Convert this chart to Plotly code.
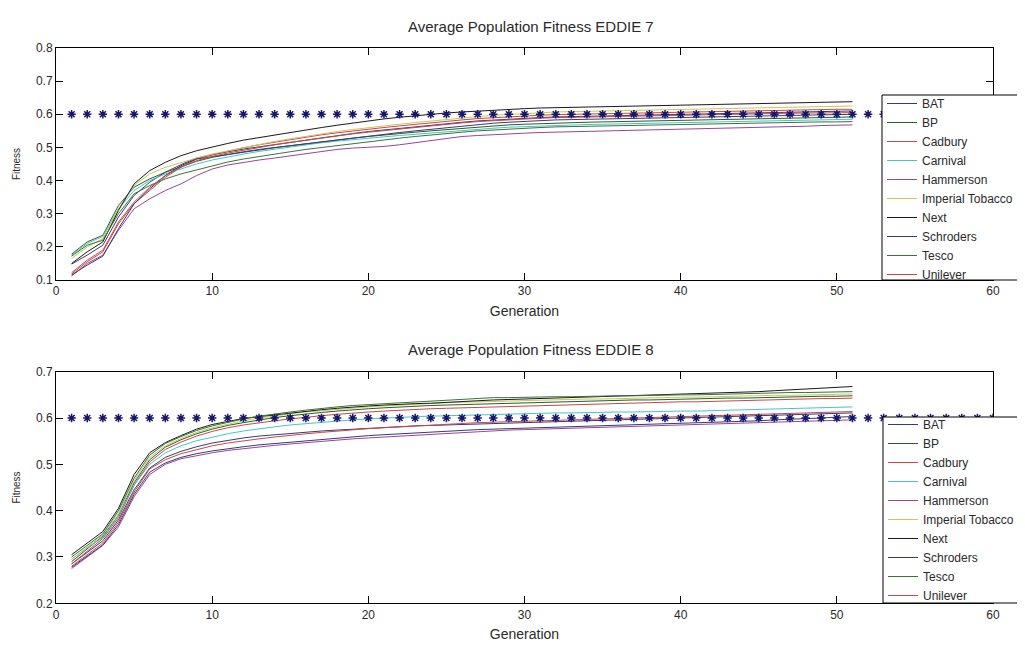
import plotly.graph_objects as go

generations = list(range(1, 52))
target_x = list(range(1, 61))
target_y = [0.6, 0.6, 0.6, 0.6, 0.6, 0.6, 0.6, 0.6, 0.6, 0.6,
            0.6, 0.6, 0.6, 0.6, 0.6, 0.6, 0.6, 0.6, 0.6, 0.6,
            0.6, 0.6, 0.6, 0.6, 0.6, 0.6, 0.6, 0.6, 0.6, 0.6,
            0.6, 0.6, 0.6, 0.6, 0.6, 0.6, 0.6, 0.6, 0.6, 0.6,
            0.6, 0.6, 0.6, 0.6, 0.6, 0.6, 0.6, 0.6, 0.6, 0.6,
            0.6, 0.6, 0.6, 0.6, 0.6, 0.6, 0.6, 0.6, 0.6, 0.6]

companies = ["BAT", "BP", "Cadbury", "Carnival", "Hammerson",
             "Imperial Tobacco", "Next", "Schroders", "Tesco", "Unilever"]

# ---------------- EDDIE 7 ----------------
e7_bat = [0.148, 0.175, 0.205, 0.29, 0.355, 0.395, 0.425, 0.448, 0.468, 0.478,
          0.487, 0.495, 0.502, 0.509, 0.516, 0.523, 0.530, 0.536, 0.542, 0.548,
          0.553, 0.558, 0.563, 0.568, 0.572, 0.576, 0.580, 0.583, 0.586, 0.588,
          0.590, 0.592, 0.593, 0.594, 0.595, 0.596, 0.597, 0.598, 0.599, 0.600,
          0.601, 0.602, 0.603, 0.604, 0.605, 0.606, 0.607, 0.608, 0.609, 0.609, 0.610]
e7_bp = [0.178, 0.215, 0.235, 0.325, 0.38, 0.405, 0.425, 0.442, 0.458, 0.470,
         0.479, 0.487, 0.494, 0.500, 0.506, 0.512, 0.518, 0.523, 0.528, 0.533,
         0.538, 0.542, 0.546, 0.550, 0.554, 0.558, 0.562, 0.565, 0.568, 0.570,
         0.572, 0.574, 0.575, 0.576, 0.577, 0.578, 0.579, 0.580, 0.581, 0.582,
         0.583, 0.584, 0.585, 0.586, 0.587, 0.588, 0.589, 0.590, 0.591, 0.591, 0.592]
e7_cadbury = [0.118, 0.155, 0.185, 0.27, 0.33, 0.37, 0.41, 0.44, 0.465, 0.478,
              0.489, 0.499, 0.508, 0.516, 0.524, 0.531, 0.538, 0.544, 0.550, 0.555,
              0.560, 0.565, 0.570, 0.575, 0.579, 0.583, 0.587, 0.590, 0.593, 0.595,
              0.597, 0.599, 0.600, 0.601, 0.602, 0.603, 0.604, 0.605, 0.606, 0.607,
              0.608, 0.609, 0.610, 0.611, 0.612, 0.613, 0.613, 0.614, 0.614, 0.615, 0.615]
e7_carnival = [0.175, 0.21, 0.232, 0.315, 0.37, 0.40, 0.42, 0.435, 0.450, 0.462,
               0.472, 0.480, 0.488, 0.495, 0.502, 0.508, 0.514, 0.519, 0.524, 0.528,
               0.532, 0.536, 0.540, 0.544, 0.548, 0.552, 0.555, 0.558, 0.561, 0.563,
               0.565, 0.567, 0.568, 0.569, 0.570, 0.571, 0.572, 0.573, 0.574, 0.575,
               0.576, 0.577, 0.578, 0.579, 0.580, 0.581, 0.582, 0.583, 0.584, 0.584, 0.585]
e7_hammerson = [0.112, 0.150, 0.175, 0.25, 0.315, 0.345, 0.37, 0.39, 0.415, 0.435,
                0.447, 0.455, 0.462, 0.468, 0.475, 0.482, 0.489, 0.494, 0.498, 0.500,
                0.503, 0.508, 0.514, 0.520, 0.528, 0.533, 0.536, 0.539, 0.541, 0.543,
                0.545, 0.546, 0.547, 0.548, 0.549, 0.550, 0.551, 0.552, 0.553, 0.554,
                0.555, 0.556, 0.557, 0.558, 0.559, 0.560, 0.562, 0.564, 0.566, 0.567, 0.568]
e7_imperial = [0.165, 0.20, 0.225, 0.315, 0.385, 0.42, 0.44, 0.455, 0.468, 0.480,
               0.490, 0.500, 0.509, 0.518, 0.526, 0.534, 0.541, 0.548, 0.554, 0.560,
               0.565, 0.570, 0.575, 0.580, 0.585, 0.589, 0.593, 0.597, 0.600, 0.603,
               0.605, 0.607, 0.608, 0.609, 0.610, 0.611, 0.612, 0.613, 0.614, 0.615,
               0.616, 0.617, 0.618, 0.619, 0.620, 0.621, 0.622, 0.623, 0.624, 0.624, 0.625]
e7_next = [0.150, 0.185, 0.215, 0.31, 0.39, 0.43, 0.455, 0.475, 0.49, 0.502,
           0.512, 0.522, 0.530, 0.538, 0.546, 0.553, 0.560, 0.567, 0.574, 0.580,
           0.586, 0.591, 0.596, 0.600, 0.604, 0.607, 0.610, 0.613, 0.615, 0.617,
           0.619, 0.620, 0.621, 0.622, 0.623, 0.624, 0.625, 0.626, 0.627, 0.628,
           0.629, 0.630, 0.631, 0.632, 0.632, 0.633, 0.634, 0.635, 0.636, 0.637, 0.638]
e7_schroders = [0.115, 0.145, 0.172, 0.255, 0.33, 0.375, 0.415, 0.445, 0.465, 0.472,
                0.480, 0.487, 0.493, 0.499, 0.505, 0.511, 0.517, 0.523, 0.529, 0.535,
                0.540, 0.545, 0.550, 0.555, 0.560, 0.565, 0.569, 0.573, 0.576, 0.579,
                0.581, 0.583, 0.584, 0.585, 0.586, 0.587, 0.588, 0.589, 0.590, 0.591,
                0.592, 0.593, 0.594, 0.595, 0.596, 0.597, 0.598, 0.598, 0.599, 0.599, 0.600]
e7_tesco = [0.172, 0.205, 0.22, 0.30, 0.36, 0.385, 0.405, 0.42, 0.432, 0.445,
            0.456, 0.465, 0.473, 0.480, 0.487, 0.494, 0.500, 0.506, 0.512, 0.518,
            0.523, 0.528, 0.533, 0.538, 0.542, 0.546, 0.550, 0.553, 0.556, 0.558,
            0.560, 0.562, 0.563, 0.564, 0.565, 0.566, 0.567, 0.568, 0.569, 0.570,
            0.571, 0.572, 0.573, 0.574, 0.575, 0.575, 0.576, 0.576, 0.577, 0.577, 0.578]
e7_unilever = [0.122, 0.16, 0.19, 0.275, 0.335, 0.38, 0.415, 0.44, 0.46, 0.473,
               0.483, 0.492, 0.500, 0.508, 0.515, 0.522, 0.529, 0.535, 0.541, 0.546,
               0.551, 0.556, 0.561, 0.566, 0.570, 0.574, 0.578, 0.581, 0.584, 0.586,
               0.588, 0.590, 0.591, 0.592, 0.593, 0.594, 0.595, 0.596, 0.597, 0.598,
               0.599, 0.600, 0.601, 0.602, 0.602, 0.603, 0.603, 0.604, 0.604, 0.605, 0.605]

# ---------------- EDDIE 8 ----------------
e8_bat = [0.285, 0.31, 0.335, 0.38, 0.445, 0.492, 0.515, 0.528, 0.538, 0.546,
          0.552, 0.557, 0.561, 0.564, 0.567, 0.570, 0.572, 0.574, 0.576, 0.578,
          0.580, 0.582, 0.583, 0.584, 0.585, 0.586, 0.587, 0.588, 0.589, 0.590,
          0.591, 0.592, 0.593, 0.594, 0.595, 0.596, 0.597, 0.598, 0.599, 0.600,
          0.601, 0.602, 0.603, 0.604, 0.605, 0.606, 0.607, 0.608, 0.609, 0.610, 0.611]
e8_bp = [0.29, 0.318, 0.345, 0.39, 0.46, 0.51, 0.537, 0.553, 0.566, 0.576,
         0.584, 0.590, 0.596, 0.601, 0.605, 0.609, 0.612, 0.615, 0.618, 0.620,
         0.622, 0.624, 0.626, 0.627, 0.628, 0.629, 0.630, 0.631, 0.632, 0.633,
         0.634, 0.635, 0.636, 0.637, 0.637, 0.638, 0.639, 0.639, 0.640, 0.641,
         0.641, 0.642, 0.643, 0.643, 0.644, 0.645, 0.645, 0.646, 0.647, 0.647, 0.648]
e8_cadbury = [0.285, 0.312, 0.34, 0.385, 0.455, 0.505, 0.532, 0.548, 0.561, 0.571,
              0.579, 0.585, 0.590, 0.594, 0.598, 0.602, 0.605, 0.608, 0.611, 0.613,
              0.615, 0.617, 0.619, 0.620, 0.621, 0.622, 0.623, 0.624, 0.625, 0.626,
              0.627, 0.628, 0.629, 0.630, 0.631, 0.632, 0.632, 0.633, 0.634, 0.635,
              0.635, 0.636, 0.637, 0.638, 0.638, 0.639, 0.640, 0.641, 0.642, 0.642, 0.643]
e8_carnival = [0.295, 0.32, 0.342, 0.39, 0.455, 0.50, 0.525, 0.54, 0.551, 0.559,
               0.566, 0.572, 0.577, 0.581, 0.585, 0.588, 0.591, 0.594, 0.596, 0.598,
               0.600, 0.601, 0.603, 0.604, 0.605, 0.606, 0.607, 0.608, 0.609, 0.610,
               0.610, 0.611, 0.611, 0.612, 0.612, 0.613, 0.613, 0.614, 0.614, 0.615,
               0.615, 0.616, 0.617, 0.617, 0.618, 0.619, 0.620, 0.621, 0.622, 0.623, 0.624]
e8_hammerson = [0.275, 0.30, 0.325, 0.365, 0.43, 0.478, 0.50, 0.512, 0.519, 0.525,
                0.530, 0.534, 0.538, 0.541, 0.544, 0.547, 0.550, 0.553, 0.555, 0.557,
                0.559, 0.561, 0.563, 0.565, 0.567, 0.569, 0.571, 0.573, 0.574, 0.575,
                0.576, 0.577, 0.578, 0.579, 0.580, 0.581, 0.582, 0.583, 0.584, 0.585,
                0.586, 0.587, 0.588, 0.589, 0.590, 0.591, 0.592, 0.593, 0.594, 0.595, 0.596]
e8_imperial = [0.295, 0.322, 0.348, 0.395, 0.465, 0.515, 0.54, 0.556, 0.569, 0.579,
               0.587, 0.594, 0.600, 0.605, 0.609, 0.613, 0.616, 0.619, 0.622, 0.624,
               0.626, 0.628, 0.630, 0.632, 0.633, 0.634, 0.635, 0.636, 0.637, 0.638,
               0.639, 0.640, 0.640, 0.641, 0.641, 0.642, 0.643, 0.643, 0.644, 0.645,
               0.645, 0.646, 0.647, 0.647, 0.648, 0.649, 0.649, 0.650, 0.651, 0.651, 0.652]
e8_next = [0.305, 0.33, 0.355, 0.405, 0.478, 0.525, 0.547, 0.562, 0.576, 0.586,
           0.593, 0.599, 0.603, 0.607, 0.611, 0.615, 0.618, 0.621, 0.624, 0.626,
           0.628, 0.630, 0.631, 0.632, 0.634, 0.636, 0.638, 0.639, 0.640, 0.641,
           0.642, 0.643, 0.644, 0.645, 0.646, 0.647, 0.648, 0.649, 0.650, 0.651,
           0.652, 0.653, 0.654, 0.655, 0.657, 0.659, 0.661, 0.663, 0.665, 0.666, 0.668]
e8_schroders = [0.278, 0.302, 0.326, 0.37, 0.435, 0.483, 0.503, 0.515, 0.523, 0.529,
                0.534, 0.538, 0.542, 0.545, 0.548, 0.551, 0.554, 0.557, 0.560, 0.562,
                0.564, 0.566, 0.568, 0.570, 0.572, 0.574, 0.575, 0.576, 0.577, 0.578,
                0.580, 0.581, 0.582, 0.583, 0.584, 0.585, 0.586, 0.587, 0.588, 0.589,
                0.590, 0.591, 0.592, 0.593, 0.594, 0.596, 0.597, 0.599, 0.600, 0.602, 0.603]
e8_tesco = [0.30, 0.325, 0.35, 0.40, 0.47, 0.52, 0.545, 0.56, 0.573, 0.583,
            0.591, 0.598, 0.604, 0.609, 0.613, 0.617, 0.621, 0.624, 0.627, 0.629,
            0.631, 0.633, 0.635, 0.637, 0.639, 0.641, 0.643, 0.644, 0.644, 0.645,
            0.645, 0.646, 0.646, 0.647, 0.647, 0.648, 0.648, 0.649, 0.649, 0.650,
            0.650, 0.651, 0.651, 0.652, 0.653, 0.654, 0.655, 0.655, 0.656, 0.656, 0.657]
e8_unilever = [0.28, 0.305, 0.33, 0.375, 0.44, 0.49, 0.51, 0.523, 0.532, 0.540,
               0.546, 0.551, 0.555, 0.559, 0.563, 0.566, 0.569, 0.572, 0.575, 0.577,
               0.579, 0.581, 0.583, 0.585, 0.587, 0.589, 0.590, 0.591, 0.592, 0.593,
               0.594, 0.595, 0.596, 0.597, 0.598, 0.599, 0.600, 0.601, 0.602, 0.603,
               0.604, 0.605, 0.606, 0.607, 0.608, 0.609, 0.610, 0.611, 0.612, 0.613, 0.614]

eddie7 = [e7_bat, e7_bp, e7_cadbury, e7_carnival, e7_hammerson,
          e7_imperial, e7_next, e7_schroders, e7_tesco, e7_unilever]
eddie8 = [e8_bat, e8_bp, e8_cadbury, e8_carnival, e8_hammerson,
          e8_imperial, e8_next, e8_schroders, e8_tesco, e8_unilever]

colors = ["#3a3a72", "#2a5e2a", "#c84848", "#48c4c4", "#9a449a",
          "#c8c858", "#1a1a1a", "#3a3a72", "#3a743a", "#c84848"]

W, H = 1025, 645
OFF = 8  # page body margin of the browser
FONT = "Liberation Sans, Arial, sans-serif"
TXT = "#2a2a2a"
STAR = "#16166e"

def px_x(p):
    return (p - OFF) / W

def px_y(p):
    return 1 - (p - OFF) / H

fig = go.Figure()

for name, ys, c in zip(companies, eddie7, colors):
    fig.add_trace(go.Scatter(x=generations, y=ys, mode="lines", name=name,
                             line=dict(color=c, width=1), xaxis="x", yaxis="y",
                             legend="legend"))
fig.add_trace(go.Scatter(x=target_x, y=target_y, mode="markers", showlegend=False,
                         marker=dict(symbol="asterisk-open", size=7, color=STAR,
                                     line=dict(color=STAR, width=1.5)),
                         xaxis="x", yaxis="y"))

for name, ys, c in zip(companies, eddie8, colors):
    fig.add_trace(go.Scatter(x=generations, y=ys, mode="lines", name=name,
                             line=dict(color=c, width=1), xaxis="x2", yaxis="y2",
                             legend="legend2"))
fig.add_trace(go.Scatter(x=target_x, y=target_y, mode="markers", showlegend=False,
                         marker=dict(symbol="asterisk-open", size=7, color=STAR,
                                     line=dict(color=STAR, width=1.5)),
                         xaxis="x2", yaxis="y2"))

axis_common = dict(showline=True, linecolor="black", linewidth=1, mirror="ticks",
                   ticks="inside", ticklen=7, tickcolor="black", showgrid=False,
                   zeroline=False, automargin=False,
                   tickfont=dict(family=FONT, size=12, color=TXT))

x_dom = [px_x(56), px_x(993)]
xtitle = dict(text="Generation", font=dict(family=FONT, size=14, color=TXT), standoff=8)
ytitle = dict(text="Fitness", font=dict(family=FONT, size=10, color=TXT), standoff=13)

legend_style = dict(xanchor="left", yanchor="top", bgcolor="rgba(0,0,0,0)",
                    borderwidth=0,
                    font=dict(family=FONT, size=12, color=TXT),
                    tracegroupgap=0, itemwidth=30)

# legend frames (white boxes with black border, partly cut by the page edge)
frames = [
    dict(type="rect", xref="paper", yref="paper", layer="above",
         x0=px_x(882), x1=px_x(1040), y0=px_y(280), y1=px_y(95),
         line=dict(color="black", width=1), fillcolor="white"),
    dict(type="rect", xref="paper", yref="paper", layer="above",
         x0=px_x(883), x1=px_x(1040), y0=px_y(603), y1=px_y(417),
         line=dict(color="black", width=1), fillcolor="white"),
]

fig.update_layout(
    width=W, height=H,
    margin=dict(l=0, r=0, t=0, b=0),
    paper_bgcolor="white", plot_bgcolor="white",
    font=dict(family=FONT, color=TXT),
    xaxis=dict(domain=x_dom, range=[0, 60], tickvals=[0, 10, 20, 30, 40, 50, 60],
               anchor="y", title=xtitle, **axis_common),
    yaxis=dict(domain=[px_y(280), px_y(48)], range=[0.1, 0.8],
               tickvals=[0.1, 0.2, 0.3, 0.4, 0.5, 0.6, 0.7, 0.8], anchor="x",
               title=ytitle, **axis_common),
    xaxis2=dict(domain=x_dom, range=[0, 60], tickvals=[0, 10, 20, 30, 40, 50, 60],
                anchor="y2", title=xtitle, **axis_common),
    yaxis2=dict(domain=[px_y(603.3), px_y(371.7)], range=[0.2, 0.7],
                tickvals=[0.2, 0.3, 0.4, 0.5, 0.6, 0.7], anchor="x2",
                title=ytitle, **axis_common),
    shapes=frames,
    legend=dict(x=px_x(882), y=px_y(89), **legend_style),
    legend2=dict(x=px_x(883), y=px_y(410), **legend_style),
    annotations=[
        dict(text="Average Population Fitness EDDIE 7", x=px_x(531), y=px_y(16),
             xref="paper", yref="paper", showarrow=False,
             font=dict(family=FONT, size=15, color=TXT)),
        dict(text="Average Population Fitness EDDIE 8", x=px_x(531), y=px_y(349),
             xref="paper", yref="paper", showarrow=False,
             font=dict(family=FONT, size=15, color=TXT)),
    ],
)

fig.write_html("out.html")
